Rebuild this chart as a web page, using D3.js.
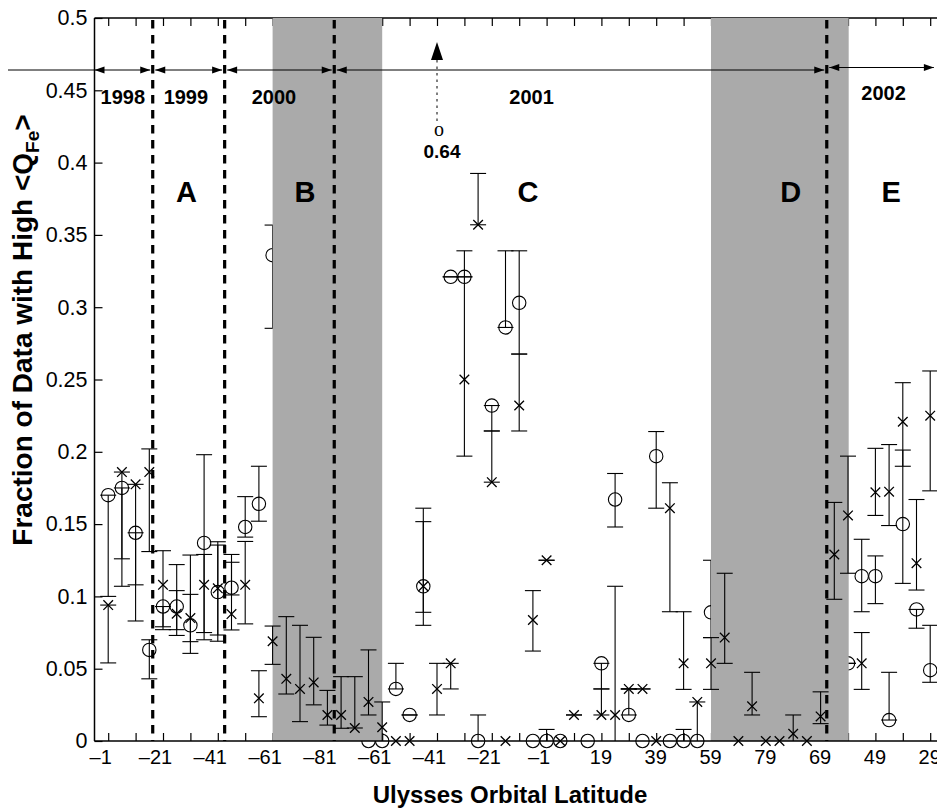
<!DOCTYPE html>
<html>
<head>
<meta charset="utf-8">
<script src="https://cdn.jsdelivr.net/npm/d3@7"></script>
<style>
  body { margin: 0; background: #fff; }
</style>
</head>
<body>
<div id="chart"></div>
<script>
// bins are evenly spaced in time; index 0..60
const tickIdx = d3.range(0, 63, 2);
const labelIdx = d3.range(0, 61, 4);
const latLabels = ['-1', '-21', '-41', '-61', '-81', '-61', '-41', '-21', '-1', '19', '39', '59', '79', '69', '49', '29'];
const yTicks = [0, 0.05, 0.1, 0.15, 0.2, 0.25, 0.3, 0.35, 0.4, 0.45, 0.5];

// crosses
const crossVal = [
  .094, .186, .1775, .186, .108, .088, .085, .108, .1056, .0878,
  .108, .0295, .069, .043, .036, .0405, .018, .018, .009, .027,
  .0095, 0, 0, .107, .036, .0537, .25, .357, .179, 0,
  .232, .0837, .125, 0, .018, null, .018, .018, .036, .036,
  0, .161, .0537, .027, .0537, .0715, 0, .024, 0, 0,
  .005, 0, .017, .129, .156, .0537, .172, .1724, .2208, .123, .225
];
const crossLo = [
  .054, .107, .108, .131, .077, .073, .0606, .075, .069, .0768,
  .081, .0168, .053, .0325, .0134, .025, .011, .0088, .009, .018,
  0, 0, 0, .089, .018, .036, .197, .357, .179, 0,
  .2144, .0622, .125, 0, .018, null, .018, 0, .036, .036,
  0, .0894, .0357, 0, .0357, .0537, 0, .018, 0, 0,
  0, 0, .012, .098, .116, .0357, .156, .149, .19, .1044, .173
];
const crossHi = [
  .094, .186, .1775, .202, .1316, .122, .1286, .129, .1378, .1236,
  .138, .0486, .0795, .086, .08, .0717, .035, .0445, .0445, .063,
  .027, 0, 0, .1517, .0537, .0537, .321, .3925, .2144, 0,
  .2676, .104, .125, 0, .018, null, .036, .107, .036, .036,
  0, .1786, .0894, .027, .0715, .116, 0, .0475, 0, 0,
  .018, 0, .034, .165, .197, .075, .2024, .205, .2478, .167, .2559
];

// circles
const circleVal = [
  .17, .175, .144, .063, .093, .093, .08, .137, .103, .106,
  .148, .164, .336, null, null, null, null, null, null, 0,
  0, .036, .018, .107, null, .321, .321, 0, .232, .286,
  .303, 0, 0, 0, null, 0, .0537, .167, .018, 0,
  .197, 0, 0, 0, .089, null, null, null, null, null,
  null, null, null, null, .0537, .114, .114, .0145, .15, .091, .049
];
const circleLo = [
  .1, .126, .083, .043, .079, .077, .0687, .07, .0733, .101,
  .141, .152, .2854, null, null, null, null, null, null, 0,
  0, .036, .018, .08, null, .321, .321, 0, .2144, .286,
  .2676, 0, 0, 0, null, 0, .036, .148, .018, 0,
  .161, 0, 0, 0, .0715, null, null, null, null, null,
  null, null, null, null, .0537, .0894, .095, .0145, .109, .078, .0406
];
const circleHi = [
  .17, .175, .144, .07, .093, .104, .1014, .198, .1355, .129,
  .169, .19, .3568, null, null, null, null, null, null, 0,
  0, .0537, .018, .161, null, .321, .339, .018, .232, .339,
  .339, 0, .008, 0, null, 0, .0537, .185, .036, 0,
  .214, 0, .008, 0, .125, null, null, null, null, null,
  null, null, null, null, .0537, .1395, .128, .0475, .2012, .091, .08
];

// off-scale circle at bin 24
const offscale = { i: 24, v: 0.64 };

// shaded intervals and year boundaries (bin units)
const bands = [[12, 20], [44, 54.05]];
const yearBounds = [3.25, 8.5, 16.5, 52.45];
const years = ['1998', '1999', '2000', '2001', '2002'];
const yearSpans = [[-1, 3.25], [3.25, 8.5], [8.5, 16.5], [16.5, 52.45], [52.45, 60.45]];
const yearLabelPos = [1.07, 5.67, 12.1, 30.9, 56.6];
const regions = ['A', 'B', 'C', 'D', 'E'];
const regionPos = [5.72, 14.36, 30.64, 49.82, 57.15];

const W = 937, H = 810;
const x = d3.scaleLinear().domain([-1, 62]).range([94.5, 94.5 + 63 * 13.7]);
const y = d3.scaleLinear().domain([0, 0.5]).range([741, 18]);

const svg = d3.select('#chart').append('svg')
  .attr('width', W).attr('height', H)
  .style('font-family', 'Liberation Sans, Arial, Helvetica, sans-serif');

// ticks
svg.append('g')
  .attr('transform', `translate(0,${y(0)})`)
  .call(d3.axisBottom(x).tickValues(tickIdx).tickSizeInner(-8).tickSizeOuter(0).tickFormat(''))
  .call(g => g.select('.domain').remove());
svg.append('g')
  .attr('transform', `translate(0,${y(0.5)})`)
  .call(d3.axisTop(x).tickValues(tickIdx).tickSizeInner(-8).tickSizeOuter(0).tickFormat(''))
  .call(g => g.select('.domain').remove());
svg.append('g')
  .attr('transform', `translate(${x(-1)},0)`)
  .call(d3.axisLeft(y).tickValues(yTicks).tickSizeInner(-8).tickSizeOuter(0).tickPadding(7)
    .tickFormat(d => d === 0 ? '0' : String(+d.toFixed(2))))
  .call(g => g.select('.domain').remove())
  .call(g => g.selectAll('text').attr('font-size', 21.5).attr('fill', '#000')
    .style('font-family', 'Liberation Sans, Arial, sans-serif'));
svg.append('g')
  .attr('transform', `translate(0,${y(0)})`)
  .call(d3.axisBottom(x).tickValues(labelIdx).tickSize(0).tickPadding(9)
    .tickFormat((d, k) => latLabels[k].replace('-', '\u2013')))
  .call(g => g.select('.domain').remove())
  .call(g => g.selectAll('text').attr('font-size', 20).attr('fill', '#000')
    .attr('dx', (d, k) => latLabels[k].startsWith('-') ? -8 : -1)
    .style('font-family', 'Liberation Sans, Arial, sans-serif'));
svg.selectAll('.tick line').attr('stroke', '#000').attr('stroke-width', 1.2);

// axis lines (top, left)
svg.append('line').attr('x1', x(-1)).attr('x2', W).attr('y1', y(0.5)).attr('y2', y(0.5))
  .attr('stroke', '#000').attr('stroke-width', 1.5);
svg.append('line').attr('x1', x(-1)).attr('x2', x(-1)).attr('y1', y(0.5)).attr('y2', y(0))
  .attr('stroke', '#000').attr('stroke-width', 1.5);

const CAP = 8;
function drawSeries(vals, los, his, kind) {
  const pts = vals.map((v, i) => ({ i, v, lo: los[i], hi: his[i] })).filter(d => d.v !== null);
  const g = svg.append('g').attr('stroke', '#000').attr('fill', 'none');
  g.selectAll('line.bar').data(pts).join('line').attr('class', 'bar')
    .attr('x1', d => x(d.i)).attr('x2', d => x(d.i))
    .attr('y1', d => y(d.lo)).attr('y2', d => y(d.hi)).attr('stroke-width', 1.1);
  const caps = pts.flatMap(d => [{ i: d.i, v: d.lo }, { i: d.i, v: d.hi }]).filter(d => d.v > 0);
  g.selectAll('line.cap').data(caps).join('line').attr('class', 'cap')
    .attr('x1', d => x(d.i) - CAP).attr('x2', d => x(d.i) + CAP)
    .attr('y1', d => y(d.v)).attr('y2', d => y(d.v)).attr('stroke-width', 1.1);
  if (kind === 'circle') {
    g.selectAll('circle').data(pts).join('circle')
      .attr('cx', d => x(d.i)).attr('cy', d => y(d.v)).attr('r', 6.7).attr('stroke-width', 1.1);
  } else {
    const s = 4.8;
    g.selectAll('path').data(pts).join('path')
      .attr('d', d => {
        const cx = x(d.i), cy = y(d.v);
        return `M${cx - s},${cy - s}L${cx + s},${cy + s}M${cx - s},${cy + s}L${cx + s},${cy - s}`;
      }).attr('stroke-width', 1.3);
  }
}

drawSeries(circleVal, circleLo, circleHi, 'circle');

// shaded intervals
svg.append('g').selectAll('rect').data(bands).join('rect')
  .attr('x', d => x(d[0])).attr('width', d => x(d[1]) - x(d[0]))
  .attr('y', y(0.5)).attr('height', y(0) - y(0.5))
  .attr('fill', '#aaaaaa');

// bottom axis line
svg.append('line').attr('x1', x(-1)).attr('x2', W).attr('y1', y(0)).attr('y2', y(0))
  .attr('stroke', '#000').attr('stroke-width', 1.5);

drawSeries(crossVal, crossLo, crossHi, 'cross');

// year boundaries
svg.append('g').selectAll('line').data(yearBounds).join('line')
  .attr('x1', d => x(d)).attr('x2', d => x(d))
  .attr('y1', y(0.5) + 2).attr('y2', y(0))
  .attr('stroke', '#000').attr('stroke-width', 3.2).attr('stroke-dasharray', '8.5,6.5');

// year arrows
const arrowY = 70;
const ag = svg.append('g');
function head(px, dir, py) {
  const L = 10, h = 3.6;
  ag.append('path')
    .attr('d', `M${px},${py}L${px - dir * L},${py - h}L${px - dir * L},${py + h}Z`)
    .attr('fill', '#000');
}
yearSpans.forEach((s, k) => {
  const py = k === 4 ? 67.5 : arrowY;
  const a = k === 0 ? x(s[0]) : x(s[0]) + 2.5;
  const b = x(s[1]) - 2.5;
  ag.append('line').attr('x1', k === 0 ? 8 : a).attr('x2', b).attr('y1', py).attr('y2', py)
    .attr('stroke', '#000').attr('stroke-width', 1);
  head(a, -1, py);
  head(b, 1, py);
});

svg.append('g').selectAll('text').data(years).join('text')
  .attr('x', (d, k) => x(yearLabelPos[k]))
  .attr('y', (d, k) => k === 4 ? 100 : 104)
  .attr('text-anchor', 'middle').attr('font-weight', 'bold').attr('font-size', 20)
  .text(d => d);

svg.append('g').selectAll('text').data(regions).join('text')
  .attr('x', (d, k) => x(regionPos[k]))
  .attr('y', 202)
  .attr('text-anchor', 'middle').attr('font-weight', 'bold').attr('font-size', 29)
  .text(d => d);

// off-scale point marker
const ox = x(offscale.i);
svg.append('path').attr('d', `M${ox},42L${ox - 6},60L${ox + 6},60Z`).attr('fill', '#000');
svg.append('line').attr('x1', ox).attr('x2', ox).attr('y1', 60).attr('y2', 123)
  .attr('stroke', '#000').attr('stroke-width', 1).attr('stroke-dasharray', '2.5,4');
svg.append('text').attr('x', ox + 2).attr('y', 136).attr('text-anchor', 'middle')
  .attr('font-family', 'Liberation Serif, serif').attr('font-size', 20).text('o');
svg.append('text').attr('x', ox + 5).attr('y', 158).attr('text-anchor', 'middle')
  .attr('font-weight', 'bold').attr('font-size', 19).text(String(offscale.v));

// axis titles
svg.append('text').attr('x', 510).attr('y', 803).attr('text-anchor', 'middle')
  .attr('font-weight', 'bold').attr('font-size', 24).text('Ulysses Orbital Latitude');

const yl = svg.append('text')
  .attr('transform', 'translate(32,330) rotate(-90)')
  .attr('text-anchor', 'middle').attr('font-weight', 'bold').attr('font-size', 28);
yl.append('tspan').text('Fraction of Data with High <Q');
yl.append('tspan').attr('font-size', 19).attr('dy', 7).text('Fe');
yl.append('tspan').attr('dy', -7).text('>');
</script>
</body>
</html>
